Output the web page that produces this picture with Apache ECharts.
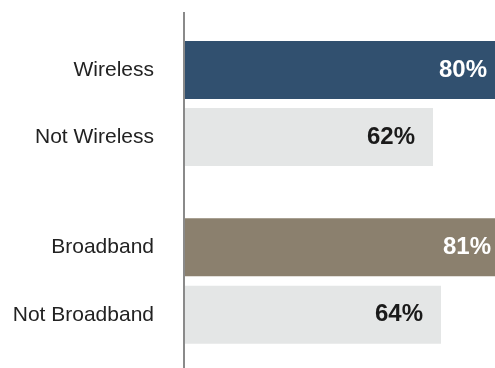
<!DOCTYPE html>
<html>
<head>
<meta charset="utf-8">
<script src="https://cdn.jsdelivr.net/npm/echarts@6/dist/echarts.min.js"></script>
<style>
    html, body { margin: 0; padding: 0; background: #fff; }
    #chart { width: 495px; height: 368px; }
</style>
</head>
<body>
<div id="chart"></div>
<script>
    // 数据
    const wirelessCats = ['Wireless', 'Not Wireless'];
    const wirelessValues = [80, 62];
    const broadbandCats = ['Broadband', 'Not Broadband'];
    const broadbandValues = [81, 64];

    const myChart = echarts.init(document.getElementById('chart'));

    // 第一条是深色，第二条是浅灰
    function buildData(values, mainColor) {
        return values.map((v, i) => {
            return {
                value: v,
                itemStyle: { color: i === 0 ? mainColor : '#e4e6e6' },
                label: { color: i === 0 ? '#ffffff' : '#1a1a1a' }
            };
        });
    }

    const yAxisStyle = {
        type: 'category',
        inverse: true,
        axisLine: { show: false },
        axisTick: { show: false },
        axisLabel: {
            margin: 31,
            fontSize: 21,
            fontFamily: 'Liberation Sans, Arial, sans-serif',
            color: '#222'
        }
    };

    const labelStyle = {
        show: true,
        position: 'insideRight',
        distance: 18,
        formatter: '{c}%',
        fontSize: 24,
        fontWeight: 'bold',
        fontFamily: 'Liberation Sans, Arial, sans-serif'
    };

    myChart.setOption({
        animation: false,
        grid: [
            { left: 185, top: 36.5, width: 400, height: 134, outerBoundsMode: 'none' },
            { left: 185, top: 213.5, width: 400, height: 135, outerBoundsMode: 'none' }
        ],
        xAxis: [
            { gridIndex: 0, type: 'value', min: 0, max: 100, show: false },
            { gridIndex: 1, type: 'value', min: 0, max: 100, show: false }
        ],
        yAxis: [
            Object.assign({ gridIndex: 0, data: wirelessCats }, yAxisStyle),
            Object.assign({ gridIndex: 1, data: broadbandCats }, yAxisStyle)
        ],
        graphic: [{
            type: 'line',
            shape: { x1: 184, y1: 12, x2: 184, y2: 368 },
            style: { stroke: '#8a8a8a', lineWidth: 2 }
        }],
        series: [
            {
                type: 'bar',
                xAxisIndex: 0,
                yAxisIndex: 0,
                barWidth: 58,
                data: buildData(wirelessValues, '#31506f'),
                label: labelStyle
            },
            {
                type: 'bar',
                xAxisIndex: 1,
                yAxisIndex: 1,
                barWidth: 58,
                data: buildData(broadbandValues, '#8b806e'),
                label: labelStyle
            }
        ]
    });
</script>
</body>
</html>
